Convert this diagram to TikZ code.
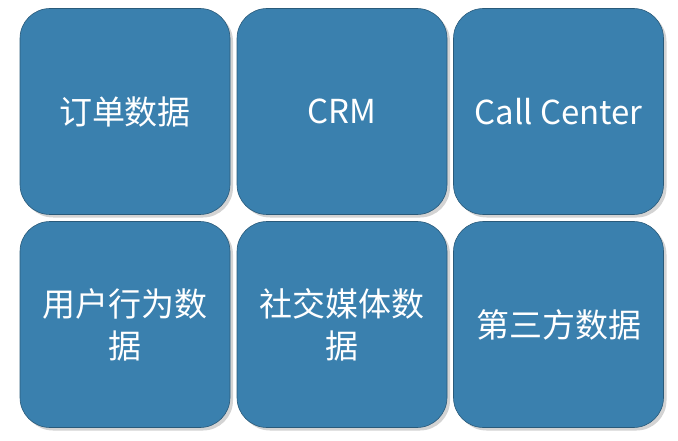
\documentclass[tikz,border=0pt]{standalone}
\usepackage{fontspec}
\newfontfamily\cjk{Noto Sans CJK SC}
\usetikzlibrary{shadows}
\definecolor{boxblue}{HTML}{3A80AE}
\tikzset{tile/.style={draw=boxblue!70!black,line width=0.6pt,fill=boxblue,rounded corners=30pt,
  minimum width=210pt,minimum height=206pt,text=white,align=center,
  font=\cjk\fontsize{33}{42}\selectfont,
  drop shadow={shadow xshift=3pt,shadow yshift=-3pt,opacity=0.35}}}
\begin{document}
\begin{tikzpicture}[x=1pt,y=1pt]
\useasboundingbox (0,0) rectangle (678,440);
\node[tile] (a) at (125,328.5) {订单数据};
\node[tile] (b) at (342,328.5) {CRM};
\node[tile] (c) at (558.5,328.5) {Call Center};
\node[tile] (d) at (125,115.5) {用户行为数\\据};
\node[tile] (e) at (342,115.5) {社交媒体数\\据};
\node[tile] (f) at (558.5,115.5) {第三方数据};
\end{tikzpicture}
\end{document}
